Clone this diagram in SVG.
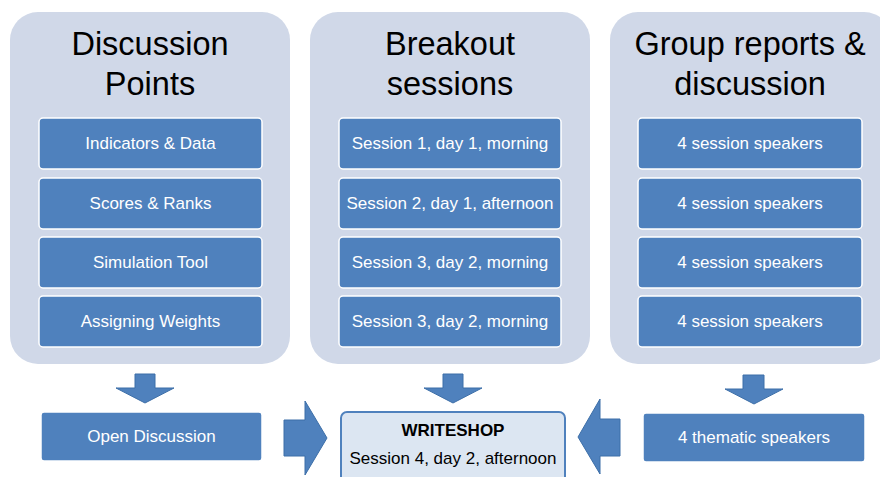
<svg xmlns="http://www.w3.org/2000/svg" width="880" height="477" viewBox="0 0 880 477">
  <style>
    .panel { fill: #d0d8e8; }
    .item { fill: #4f81bd; stroke: #ffffff; stroke-width: 1.5; }
    .title { font-family: "Liberation Sans", Arial, sans-serif; font-size: 32.5px; fill: #000000; text-anchor: middle; }
    .label { font-family: "Liberation Sans", Arial, sans-serif; font-size: 17px; fill: #ffffff; text-anchor: middle; }
    .arrow { fill: #4f81bd; stroke: #3d6fa8; stroke-width: 1; }
    .ws { fill: #dce6f2; stroke: #4f81bd; stroke-width: 2; }
    .wstext { font-family: "Liberation Sans", Arial, sans-serif; font-size: 17px; fill: #000000; text-anchor: middle; }
  </style>
  <rect width="880" height="477" fill="#ffffff"/>

  <!-- Column 1: discussion points -->
  <g id="discussion-points">
    <rect class="panel" x="10" y="12" width="280" height="352" rx="28"/>
    <text class="title" x="150" y="55">Discussion</text>
    <text class="title" x="150" y="95">Points</text>
    <rect class="item" x="39" y="118" width="223" height="51" rx="4"/>
    <text class="label" x="150.5" y="149">Indicators &amp; Data</text>
    <rect class="item" x="39" y="178" width="223" height="51" rx="4"/>
    <text class="label" x="150.5" y="209">Scores &amp; Ranks</text>
    <rect class="item" x="39" y="237" width="223" height="51" rx="4"/>
    <text class="label" x="150.5" y="268">Simulation Tool</text>
    <rect class="item" x="39" y="296" width="223" height="51" rx="4"/>
    <text class="label" x="150.5" y="327">Assigning Weights</text>
  </g>

  <!-- Column 2: breakout sessions -->
  <g id="breakout-sessions">
    <rect class="panel" x="310" y="12" width="280" height="352" rx="28"/>
    <text class="title" x="450" y="55">Breakout</text>
    <text class="title" x="450" y="95">sessions</text>
    <rect class="item" x="339" y="118" width="222" height="51" rx="4"/>
    <text class="label" x="450" y="149">Session 1, day 1, morning</text>
    <rect class="item" x="339" y="178" width="222" height="51" rx="4"/>
    <text class="label" x="450" y="209">Session 2, day 1, afternoon</text>
    <rect class="item" x="339" y="237" width="222" height="51" rx="4"/>
    <text class="label" x="450" y="268">Session 3, day 2, morning</text>
    <rect class="item" x="339" y="296" width="222" height="51" rx="4"/>
    <text class="label" x="450" y="327">Session 3, day 2, morning</text>
  </g>

  <!-- Column 3: group reports -->
  <g id="group-reports">
    <rect class="panel" x="610" y="12" width="282" height="352" rx="28"/>
    <text class="title" x="750" y="55">Group reports &amp;</text>
    <text class="title" x="750" y="95">discussion</text>
    <rect class="item" x="638" y="118" width="224" height="51" rx="4"/>
    <text class="label" x="750" y="149">4 session speakers</text>
    <rect class="item" x="638" y="178" width="224" height="51" rx="4"/>
    <text class="label" x="750" y="209">4 session speakers</text>
    <rect class="item" x="638" y="237" width="224" height="51" rx="4"/>
    <text class="label" x="750" y="268">4 session speakers</text>
    <rect class="item" x="638" y="296" width="224" height="51" rx="4"/>
    <text class="label" x="750" y="327">4 session speakers</text>
  </g>

  <!-- Bottom row -->
  <g id="open-discussion">
    <rect class="item" x="41" y="412" width="221" height="49" rx="3"/>
    <text class="label" x="151.5" y="442">Open Discussion</text>
  </g>

  <g id="writeshop">
    <rect class="ws" x="341" y="412" width="224" height="72" rx="6"/>
    <text class="wstext" x="453" y="436" font-weight="bold">WRITESHOP</text>
    <text class="wstext" x="453" y="464">Session 4, day 2, afternoon</text>
  </g>

  <g id="thematic-speakers">
    <rect class="item" x="643" y="413" width="222" height="49" rx="3"/>
    <text class="label" x="754" y="443">4 thematic speakers</text>
  </g>

  <!-- Block arrows -->
  <g id="connectors">
    <polygon class="arrow" points="135,374 155,374 155,388 174,388 145,403 116,388 135,388"/>
    <polygon class="arrow" points="443,374 463,374 463,388 482,388 453,403 424,388 443,388"/>
    <polygon class="arrow" points="743,375 764,375 764,389 783,389 754,404 725,389 743,389"/>
    <polygon class="arrow" points="284,420 305,420 305,401 327,438 305,475 305,456 284,456"/>
    <polygon class="arrow" points="620,419 600,419 600,399 578,437 600,474 600,456 620,456"/>
  </g>
</svg>
